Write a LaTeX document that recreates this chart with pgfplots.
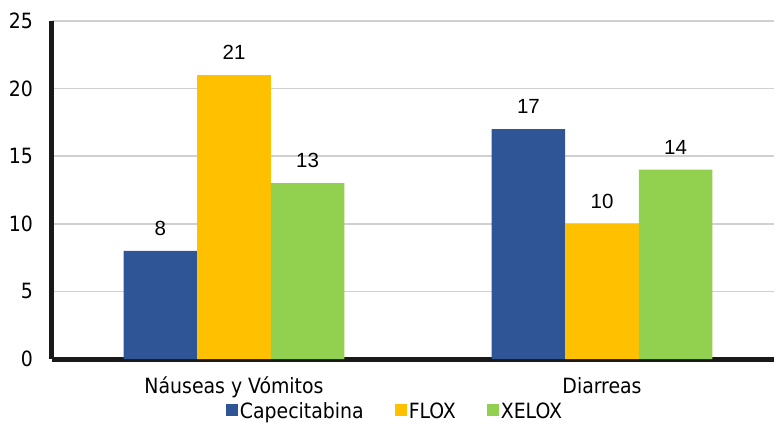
\documentclass[border=0pt]{standalone}
\usepackage{fontspec}
\setmainfont{DejaVu Sans Condensed}
\newfontfamily\arialf{Liberation Sans}
\usepackage{pgfplots}
\pgfplotsset{compat=1.18}
\definecolor{cBlue}{HTML}{2F5597}
\definecolor{cOrange}{HTML}{FFC000}
\definecolor{cGreen}{HTML}{92D050}
\definecolor{cGrid}{HTML}{D0D0D0}
\begin{document}
\begin{tikzpicture}
\path[use as bounding box] (-52pt,-64pt) rectangle (723pt,359pt);
\begin{axis}[
  at={(0,0)}, anchor=south west,
  width=722pt, height=338pt, scale only axis,
  xmin=-0.4946, xmax=1.4674, ymin=0, ymax=25,
  ytick={0,5,...,25},
  xtick={0,1}, xticklabels={Náuseas y Vómitos, Diarreas},
  axis lines*=left,
  axis line style={line width=5pt, color=black!90, -},
  ymajorgrids, grid style={draw=cGrid, line width=1.5pt},
  major tick length=0pt, tick style={draw=none},
  ybar=0pt, bar width=73.6pt,
  nodes near coords,
  every node near coord/.append style={font=\arialf\fontsize{20.5}{24}\selectfont, anchor=south, inner sep=0pt, yshift=15pt, color=black},
  /pgf/number format/assume math mode=true,
  tick label style={font=\fontsize{21}{25}\selectfont, color=black},
  yticklabel style={anchor=east, inner sep=0pt, xshift=-19pt},
  xticklabel style={anchor=base, inner sep=0pt, yshift=-34pt},
  legend columns=3,
  legend style={at={(axis description cs:0.475,-0.154)}, anchor=center, draw=none, fill=none, inner sep=0pt,
    font=\fontsize{21}{25}\selectfont,
    nodes={inner sep=2pt},
    /tikz/every even column/.append style={column sep=29pt}},
  legend image code/.code={\fill[#1] (0pt,-4.5pt) rectangle (12pt,7.5pt);},
]
\addplot[fill=cBlue, draw=none] coordinates {(0,8) (1,17)};
\addplot[fill=cOrange, draw=none] coordinates {(0,21) (1,10)};
\addplot[fill=cGreen, draw=none] coordinates {(0,13) (1,14)};
\legend{Capecitabina, FLOX, XELOX}
\end{axis}
\end{tikzpicture}
\end{document}
